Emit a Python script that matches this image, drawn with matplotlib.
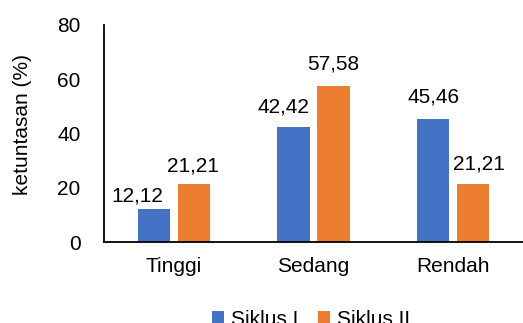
import matplotlib
matplotlib.use("Agg")
import matplotlib.pyplot as plt
import numpy as np

plt.rcParams['font.family'] = ['Liberation Sans', 'DejaVu Sans']

categories = ["Tinggi", "Sedang", "Rendah"]
siklus1 = [12.12, 42.42, 45.46]
siklus2 = [21.21, 57.58, 21.21]
series_names = ["Siklus I", "Siklus II"]
yticks = [0, 20, 40, 60, 80]

# manual label placement (pixel offsets dx, gap above bar) as in the source chart
label_offsets_1 = [(-16, 8), (-10, 14), (0, 16)]
label_offsets_2 = [(-1, 13), (0, 16), (6, 15)]

W, H = 523, 323
FS = 15
fig = plt.figure(figsize=(W/100, H/100), dpi=100)
ax = fig.add_axes([104/W, 1-242/H, (523-104)/W, (242-25)/H])

x = np.arange(len(categories))
bw = 0.23
off = 0.1435
b1 = ax.bar(x - off, siklus1, bw, color="#4472C4", label=series_names[0])
b2 = ax.bar(x + off, siklus2, bw, color="#ED7D31", label=series_names[1])

for bars, vals, offs in ((b1, siklus1, label_offsets_1), (b2, siklus2, label_offsets_2)):
    for r, v, (dx, dy) in zip(bars, vals, offs):
        ax.annotate(f"{v:.2f}".replace(".", ","), (r.get_x() + r.get_width()/2, v),
                    xytext=(dx*0.72, dy*0.72), textcoords="offset points", ha="center",
                    va="baseline", fontsize=FS)

ax.set_xlim(-0.5, 2.5)
ax.set_ylim(0, 80)
ax.set_yticks(yticks)
ax.set_xticks(x)
ax.set_xticklabels(categories)
ax.tick_params(axis='both', length=0, labelsize=FS)
ax.tick_params(axis='y', pad=17)
ax.tick_params(axis='x', pad=11)
for s in ("top", "right"):
    ax.spines[s].set_visible(False)
for s in ("left", "bottom"):
    ax.spines[s].set_linewidth(1.3)
    ax.spines[s].set_color("black")
ax.set_ylabel("ketuntasan (%)", fontsize=FS)
ax.yaxis.set_label_coords((32-104)/(523-104), 0.54)

fig.legend(loc="upper center", bbox_to_anchor=(311/W, 1-291/H), ncol=2, frameon=False,
           fontsize=FS, handlelength=0.6, handleheight=0.6, handletextpad=0.35, columnspacing=0.9)

fig.savefig("out.png", dpi=100)
